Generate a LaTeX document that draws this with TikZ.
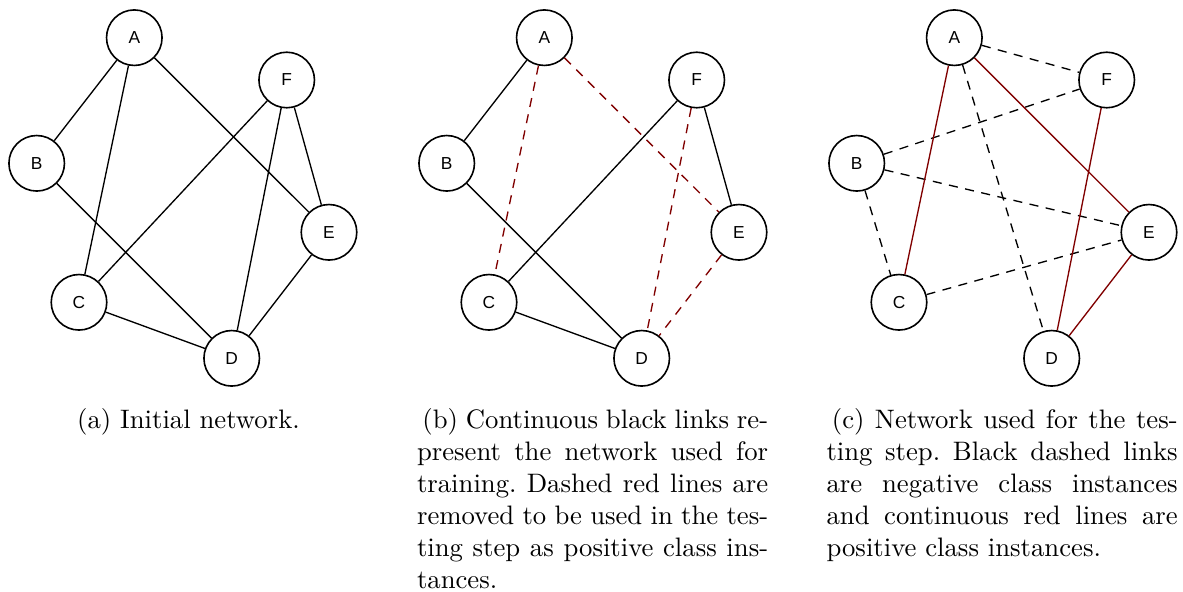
\documentclass[tikz,border=0pt]{standalone}
\usepackage{fontspec}
\newfontfamily\nodefont{Liberation Sans}
\definecolor{linkred}{RGB}{128,0,0}
\tikzset{
  vertex/.style={circle, draw, line width=0.6pt, minimum size=20.8pt, inner sep=0pt,
                 font=\nodefont\fontsize{6.5}{7}\selectfont},
  link/.style={line width=0.5pt},
  cutlink/.style={link, draw=linkred, dash pattern=on 3.4pt off 2.8pt},
  neglink/.style={link, dash pattern=on 3.4pt off 2.8pt},
  poslink/.style={link, draw=linkred},
  captext/.style={inner sep=0pt, font=\fontsize{10}{12}\selectfont},
}
% one fully justified caption line
\newcommand\capline[1]{\makebox[\linewidth][s]{#1}\par}
\frenchspacing
\begin{document}
\begin{tikzpicture}[x=0.3745pt, y=-0.3745pt]
\useasboundingbox (0,0) rectangle (1183,592);

% ---------- (a) initial network ----------
\node[vertex] (aA) at (134.3,37.7) {A};
\node[vertex] (aB) at (36.7,163.3) {B};
\node[vertex] (aC) at (79,302.3) {C};
\node[vertex] (aD) at (231.7,358.3) {D};
\node[vertex] (aE) at (329,232.3) {E};
\node[vertex] (aF) at (286.7,80) {F};
\draw[link] (aA) -- (aB);
\draw[link] (aA) -- (aC);
\draw[link] (aA) -- (aE);
\draw[link] (aB) -- (aD);
\draw[link] (aC) -- (aF);
\draw[link] (aC) -- (aD);
\draw[link] (aF) -- (aD);
\draw[link] (aF) -- (aE);
\draw[link] (aE) -- (aD);

% ---------- (b) training network ----------
\begin{scope}[shift={(410,0)}]
\node[vertex] (bA) at (134.3,37.7) {A};
\node[vertex] (bB) at (36.7,163.3) {B};
\node[vertex] (bC) at (79,302.3) {C};
\node[vertex] (bD) at (231.7,358.3) {D};
\node[vertex] (bE) at (329,232.3) {E};
\node[vertex] (bF) at (286.7,80) {F};
\end{scope}
\draw[link] (bA) -- (bB);
\draw[link] (bB) -- (bD);
\draw[link] (bC) -- (bF);
\draw[link] (bC) -- (bD);
\draw[link] (bF) -- (bE);
\draw[cutlink] (bA) -- (bC);
\draw[cutlink] (bA) -- (bE);
\draw[cutlink] (bF) -- (bD);
\draw[cutlink] (bE) -- (bD);

% ---------- (c) testing network ----------
\begin{scope}[shift={(820,0)}]
\node[vertex] (cA) at (134.3,37.7) {A};
\node[vertex] (cB) at (36.7,163.3) {B};
\node[vertex] (cC) at (79,302.3) {C};
\node[vertex] (cD) at (231.7,358.3) {D};
\node[vertex] (cE) at (329,232.3) {E};
\node[vertex] (cF) at (286.7,80) {F};
\end{scope}
\draw[neglink] (cA) -- (cF);
\draw[neglink] (cB) -- (cF);
\draw[neglink] (cB) -- (cE);
\draw[neglink] (cB) -- (cC);
\draw[neglink] (cA) -- (cD);
\draw[neglink] (cC) -- (cE);
\draw[poslink] (cA) -- (cC);
\draw[poslink] (cA) -- (cE);
\draw[poslink] (cF) -- (cD);
\draw[poslink] (cE) -- (cD);

% ---------- captions ----------
\node[captext, anchor=base] (capa) at (188.5,428.5) {(a) Initial network.};

\node[captext, anchor=base west] (capb) at (416.5,428.5) {%
\begin{minipage}[t]{131.5pt}\fontsize{10}{12}\selectfont\parindent=0pt
\capline{\hspace*{2pt}(b) Continuous black links re-}
\capline{present the network used for}
\capline{training. Dashed red lines are}
\capline{removed to be used in the tes-}
\capline{ting step as positive class ins-}
tances.
\end{minipage}};

\node[captext, anchor=base west] (capc) at (826,428.5) {%
\begin{minipage}[t]{131.5pt}\fontsize{10}{12}\selectfont\parindent=0pt
\capline{\hspace*{2pt}(c) Network used for the tes-}
\capline{ting step. Black dashed links}
\capline{are negative class instances}
\capline{and continuous red lines are}
positive class instances.
\end{minipage}};
\end{tikzpicture}
\end{document}
